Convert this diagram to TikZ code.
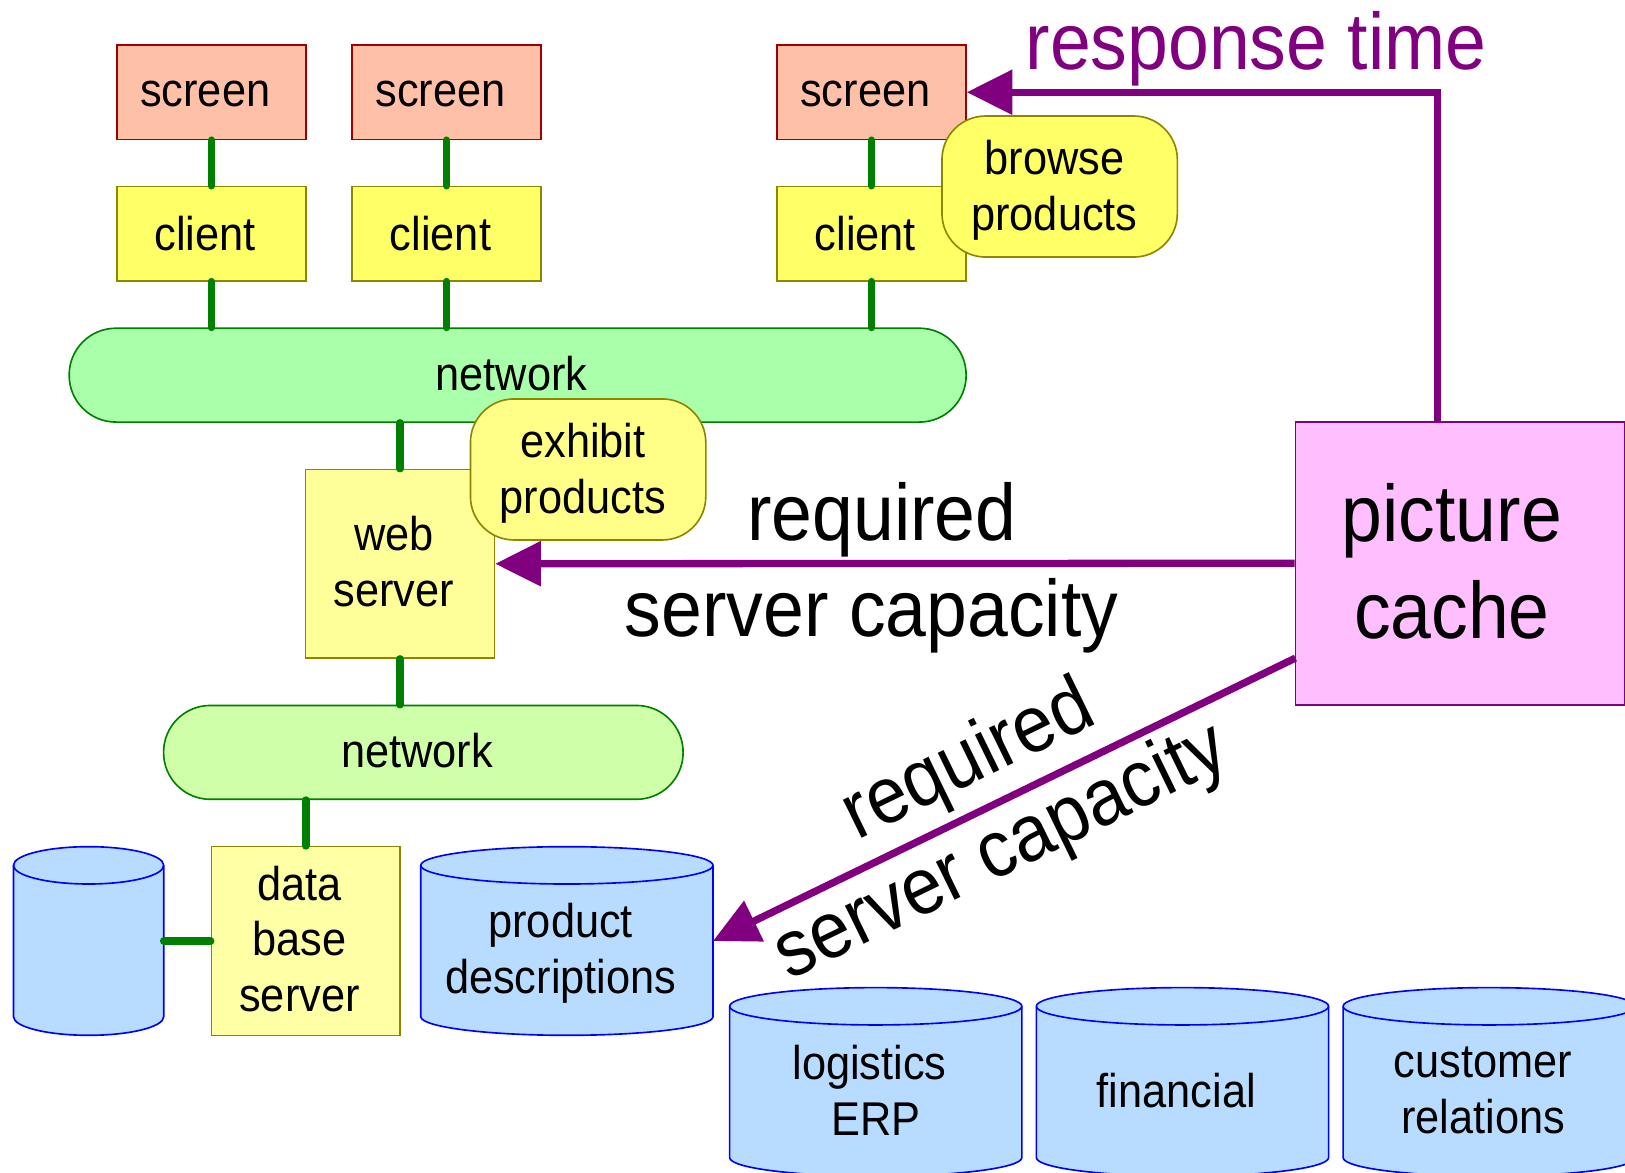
\documentclass[tikz,border=0pt]{standalone}
\usepackage{fontspec}
\setmainfont[FakeStretch=0.915]{Liberation Sans}
\usetikzlibrary{arrows.meta}
\definecolor{wire}{HTML}{008000}
\definecolor{load}{HTML}{800080}
\definecolor{dbfill}{HTML}{B8DCFF}
\definecolor{screenfill}{HTML}{FFC0A8}
\definecolor{clientfill}{HTML}{FFFF66}
\definecolor{webfill}{HTML}{FFFF99}
\definecolor{serverfill}{HTML}{FFFFA6}
\definecolor{netAfill}{HTML}{AAFFAA}
\definecolor{netBfill}{HTML}{CFFFA8}
\definecolor{exhibitfill}{HTML}{FFFF88}
\definecolor{cachefill}{HTML}{FFBFFF}
\newcommand{\nudge}{\kern3.4pt}
\newcommand{\nudgeb}{\kern2.85pt}
\newcommand{\nudgec}{\kern4.55pt}
\newcommand{\sink}{\rule{0pt}{11.5pt}}
\newcommand{\lift}{\rule[-1.2pt]{0pt}{1.2pt}}
\tikzset{
  small/.style={font=\fontsize{13}{15.3}\selectfont, align=center},
  large/.style={font=\fontsize{22}{26.5}\selectfont, align=center},
  block/.style={small, draw, line width=0.45pt, inner sep=0pt},
  screenbox/.style={block, draw={rgb,255:red,160;green,0;blue,0}, fill=screenfill, minimum width=1.82cm, minimum height=0.91cm},
  clientbox/.style={block, draw=olive, fill=clientfill, minimum width=1.82cm, minimum height=0.91cm},
  serverbox/.style={block, draw=olive, minimum width=1.82cm, minimum height=1.82cm},
  netbox/.style={block, draw=wire, rounded corners=0.45cm, minimum height=0.905cm},
  bubble/.style={block, draw=olive, rounded corners=0.42cm, minimum width=2.27cm, minimum height=1.36cm},
  storeline/.style={draw=blue, line width=0.45pt, fill=dbfill},
  wired/.style={wire, line width=2.1pt, line cap=round},
  timed/.style={load, line width=2pt, -{Triangle[length=0.44cm,width=0.42cm]}}
}
% name, x, y, half width, text
\newcommand{\dbstore}[5]{
\draw[storeline] ({#2-#4},{#3-73}) arc[start angle=180, end angle=0, x radius=#4*0.01cm, y radius=0.18cm]
  -- ({#2+#4},{#3+73}) arc[start angle=0, end angle=-180, x radius=#4*0.01cm, y radius=0.18cm] -- cycle;
\draw[storeline, fill=none] ({#2-#4},{#3-73}) arc[start angle=180, end angle=360, x radius=#4*0.01cm, y radius=0.18cm];
\node[small] (#1) at (#2,{#3+8}) {#5};
\coordinate (#1port) at ({#2+#4},#3);
}
\begin{document}
\begin{tikzpicture}[x=0.01cm,y=-0.01cm]
\useasboundingbox (0,0) rectangle (1568,1131);
% front end
\foreach \n/\x in {1/204,2/431,3/841}
{
\node[screenbox] (screen\n) at (\x,89) {\rule{0pt}{8pt}screen\nudge};
\node[clientbox] (client\n) at (\x,225.5) {client\nudge};
}
\node[netbox, fill=netAfill, minimum width=8.65cm] (netA) at (499.5,362) {network\nudge\lift};
\node[serverbox, fill=webfill] (web) at (386,544) {web\nudge\\server\nudge\lift};
\node[netbox, fill=netBfill, minimum width=5.01cm] (netB) at (408.5,726) {network\nudge\lift};
\node[serverbox, fill=serverfill] (dbserver) at (295,908) {data\nudge\\base\nudge\\server\nudge\lift};
% stores
\dbstore{dbplain}{85.5}{908}{72.5}{}
\dbstore{product}{547}{908}{141}{\sink product\nudge\\descriptions\nudge}
\dbstore{logistics}{845}{1044}{141}{logistics\nudge\\ERP}
\dbstore{financial}{1141}{1044}{141}{financial\nudge}
\dbstore{customer}{1437}{1044}{141}{customer\nudge\\relations\nudge}
% wires
\foreach \n in {1,2,3}
{
\draw[wired] (screen\n.south) -- (client\n.north);
\draw[wired] (client\n.south) -- (client\n.south |- netA.north);
}
\draw[wired] (web.north) -- (web.north |- netA.south);
\draw[wired] (web.south) -- (web.south |- netB.north);
\draw[wired] (dbserver.north) -- (dbserver.north |- netB.south);
\draw[wired] (dbplainport) -- (dbserver.west);
% functions
\node[bubble, fill=clientfill] (browse) at (1022.5,180) {\sink browse\nudgeb\\products\nudgeb};
\node[bubble, fill=exhibitfill] (exhibit) at (567.5,453) {\sink exhibit\nudgeb\\products\nudgeb};
% cache
\node[large, draw=load, line width=0.45pt, fill=cachefill, inner sep=0pt, minimum width=3.18cm, minimum height=2.73cm] (cache) at (1409,543.5) {picture\nudgec\\cache\nudgec\lift};
\coordinate (cacheup) at (1387,407);
\coordinate (cachelow) at (1250,635);
\draw[timed] (cacheup) |- (screen3.east);
\draw[timed] (cache.west) -- (web.east);
\draw[timed] (cachelow) -- (productport);
\node[large, load] (lblresponse) at (1212,47) {response time};
\node[large] (lblserver) at (846,548) {\nudgeb required\\server capacity\nudgeb};
\node[large, rotate=26] (lblproduct) at (951,780) {\nudgeb required\\server capacity\nudgeb};
\end{tikzpicture}
\end{document}
